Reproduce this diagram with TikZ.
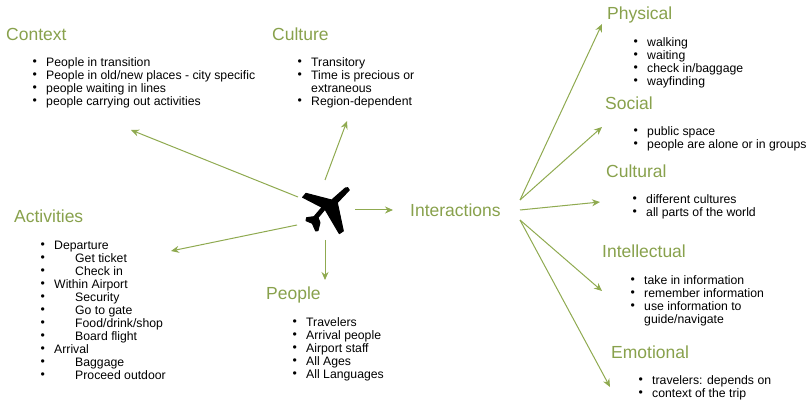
\documentclass[tikz,border=0pt]{standalone}
\usepackage{fontspec}
\setmainfont{Liberation Sans}
\usetikzlibrary{positioning, arrows.meta}

\definecolor{olive}{HTML}{8FAA50}
\newcommand{\li}[1]{\makebox[13pt][l]{\hspace{-0.5pt}\raisebox{0.5pt}{\textbullet}}\strut #1}
\newcommand{\lii}[1]{\makebox[13pt][l]{\hspace{-0.5pt}\raisebox{0.5pt}{\textbullet}}\hspace{21pt}\strut #1}
\newcommand{\cont}[1]{\hspace{13pt}\strut #1}

\tikzstyle{heading} = [anchor = north west, inner sep = 0pt, text height = 14pt, text depth = 4pt, text = olive!95!black, font = \fontsize{17.5}{18}\selectfont]
\tikzstyle{items} = [anchor = north west, inner sep = 0pt, align = left, font = \fontsize{12.25}{13}\selectfont]
\tikzstyle{line} = [draw = olive, line width = 1pt, -{Stealth[length = 8pt, width = 7pt]}]

\begin{document}
\begin{tikzpicture}[x = 1pt, y = 1pt]

  \useasboundingbox (0, 0) rectangle (812, -414);

  \node[heading] (context) at (6, -26) {Context};
  \node[heading] (culture) at (272, -26) {Culture};
  \node[heading] (activities) at (14, -208) {Activities};
  \node[heading] (people) at (266, -285) {People};
  \node[heading] (interactions) at (410, -202) {Interactions};
  \node[heading] (physical) at (607, -5) {Physical};
  \node[heading] (social) at (605, -95) {Social};
  \node[heading] (cultural) at (606, -163) {Cultural};
  \node[heading] (intellectual) at (602, -243) {Intellectual};
  \node[heading] (emotional) at (611, -344) {Emotional};

  \node[items, below right = 31pt and 27pt of context.north west] (contextlist) {\li{People in transition}\\ \li{People in old/new places - city specific}\\ \li{people waiting in lines}\\ \li{people carrying out activities}};
  \node[items, below right = 31pt and 26pt of culture.north west] (culturelist) {\li{Transitory}\\ \li{Time is precious or}\\ \cont{extraneous}\\ \li{Region-dependent}};
  \node[items, below right = 32pt and 27pt of activities.north west] (activitieslist) {\li{Departure}\\ \lii{Get ticket}\\ \lii{Check in}\\ \li{Within Airport}\\ \lii{Security}\\ \lii{Go to gate}\\ \lii{Food/drink/shop}\\ \lii{Board flight}\\ \li{Arrival}\\ \lii{Baggage}\\ \lii{Proceed outdoor}};
  \node[items, below right = 32pt and 27pt of people.north west] (peoplelist) {\li{Travelers}\\ \li{Arrival people}\\ \li{Airport staff}\\ \li{All Ages}\\ \li{All Languages}};
  \node[items, below right = 32pt and 27pt of physical.north west] (physicallist) {\li{walking}\\ \li{waiting}\\ \li{check in/baggage}\\ \li{wayfinding}};
  \node[items, below right = 31pt and 29pt of social.north west] (sociallist) {\li{public space}\\ \li{people are alone or in groups}};
  \node[items, below right = 31pt and 27pt of cultural.north west] (culturallist) {\li{different cultures}\\ \li{all parts of the world}};
  \node[items, below right = 32pt and 29pt of intellectual.north west] (intellectuallist) {\li{take in information}\\ \li{remember information}\\ \li{use information to}\\ \cont{guide/navigate}};
  \node[items, below right = 31pt and 28pt of emotional.north west] (emotionallist) {\li{travelers: depends on}\\ \li{context of the trip}};

  % plane, traced in a 3x grid
  \begin{scope}[shift = {(280, -170)}, x = 0.3333pt, y = -0.3333pt]
    \fill[black, draw = black, line width = 1pt, line join = round] (196, 54) -- (203, 53) -- (208, 60) -- (172, 98) -- (190, 183) -- (178, 191) -- (135, 118) -- (114, 143) -- (120, 158) -- (114, 182) -- (107, 183) -- (97, 160) -- (78, 152) -- (80, 143) -- (102, 140) -- (126, 112) -- (68, 82) -- (78, 70) -- (155, 90) -- cycle;
  \end{scope}

  \coordinate (planeleft) at (298, -197);
  \coordinate (planetop) at (325, -180);
  \coordinate (planelow) at (297, -225);
  \coordinate (planebottom) at (325, -240);
  \coordinate (planeright) at (355, -210);
  \coordinate (hubtop) at (520, -200);
  \coordinate (hubmid) at (520, -210);
  \coordinate (hublow) at (520, -220);

  \coordinate (tocontext) at (131, -130);
  \coordinate (toculture) at (347, -121);
  \coordinate (toactivities) at (171, -251);
  \coordinate (topeople) at (325, -280);
  \coordinate (tointeractions) at (393, -210);
  \coordinate (tophysical) at (602, -24);
  \coordinate (tosocial) at (602, -127);
  \coordinate (tocultural) at (600, -202);
  \coordinate (tointellectual) at (602, -291);
  \coordinate (toemotional) at (610, -387);

  \path [line] (planeleft) -- (tocontext);
  \path [line] (planetop) -- (toculture);
  \path [line] (planelow) -- (toactivities);
  \path [line] (planebottom) -- (topeople);
  \path [line] (planeright) -- (tointeractions);
  \path [line] (hubtop) -- (tophysical);
  \path [line] (hubtop) -- (tosocial);
  \path [line] (hubmid) -- (tocultural);
  \path [line] (hublow) -- (tointellectual);
  \path [line] (hublow) -- (toemotional);

\end{tikzpicture}
\end{document}
